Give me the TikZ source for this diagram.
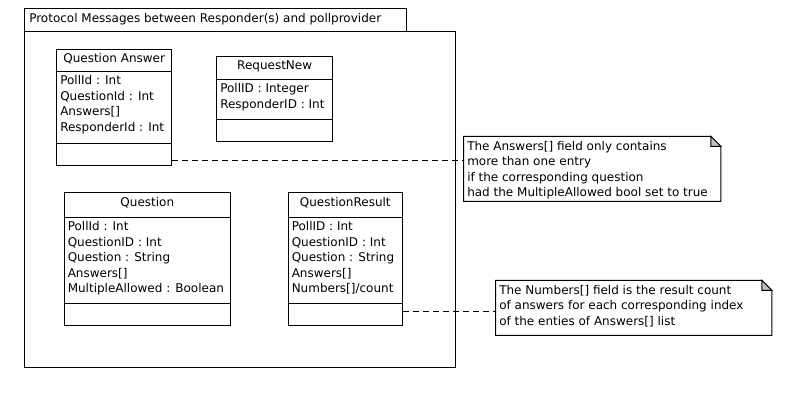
\documentclass[tikz,border=0pt]{standalone}
\usepackage{fontspec}
\setmainfont{DejaVu Sans}
\usetikzlibrary{fit}
\begin{document}
\begin{tikzpicture}[x=0.75pt,y=-0.75pt,
    box/.style={draw,line width=0.75pt,inner sep=0pt},
    note/.style={inner sep=0pt},
    txt/.style={font=\fontsize{9}{11.6}\selectfont,inner sep=0pt,align=left,anchor=north west},
    title/.style={font=\fontsize{9}{11.6}\selectfont,inner sep=0pt},
    link/.style={line width=0.75pt,dash pattern=on 4.5pt off 3pt}]
  \useasboundingbox (0,0) rectangle (796,408);
  % package
  \node[box, fit={(24,8) (406,31)}] (tab) {};
  \node[box, fit={(24,31) (455,367)}] (pkg) {};
  \node[title, anchor=west] (pkgname) at (29,19) {Protocol Messages between Responder(s) and pollprovider};
  % classes
  \node[box, fit={(56.7,49) (171.7,165)}] (qa) {};
  \draw[line width=0.75pt] (56.7,71) -- (171.7,71) (56.7,143.3) -- (171.7,143.3);
  \node[title] (qaname) at (114.2,58.5) {Question Answer};
  \node[txt] (qaattr) at (60,75.5) {PollId : Int\\QuestionId : Int\\Answers[]\\ResponderId : Int};
  \node[box, fit={(216.7,56.7) (332.7,141)}] (rn) {};
  \draw[line width=0.75pt] (216.7,79.3) -- (332.7,79.3) (216.7,119) -- (332.7,119);
  \node[title] (rnname) at (274.7,66) {RequestNew};
  \node[txt] (rnattr) at (220,83.5) {PollID : Integer\\ResponderID : Int};
  \node[box, fit={(64,192.3) (230.7,325)}] (q) {};
  \draw[line width=0.75pt] (64,217.3) -- (230.7,217.3) (64,303.3) -- (230.7,303.3);
  \node[title] (qname) at (147.3,202.5) {Question};
  \node[txt] (qattr) at (67.5,221.5) {PollId : Int\\QuestionID : Int\\Question : String\\Answers[]\\MultipleAllowed : Boolean};
  \node[box, fit={(288.3,192.3) (402.3,325)}] (qr) {};
  \draw[line width=0.75pt] (288.3,217.3) -- (402.3,217.3) (288.3,303.3) -- (402.3,303.3);
  \node[title] (qrname) at (345.3,202.5) {QuestionResult};
  \node[txt] (qrattr) at (291.5,221.5) {PollID : Int\\QuestionID : Int\\Question : String\\Answers[]\\Numbers[]/count};
  % notes
  \node[note, fit={(464,136.7) (720.7,201)}] (n1) {};
  \node[note, fit={(496,280.7) (771.7,335)}] (n2) {};
  \foreach \n in {n1,n2} {
    \draw[line width=0.75pt] (\n.north west) -- ([xshift=-7.5pt]\n.north east)
      -- ([yshift=-7.5pt]\n.north east) -- (\n.south east) -- (\n.south west) -- cycle;
    \filldraw[line width=0.75pt,fill=black!25] ([xshift=-7.5pt]\n.north east)
      -- ([xshift=-7.5pt,yshift=-7.5pt]\n.north east) -- ([yshift=-7.5pt]\n.north east) -- cycle;
  }
  \node[txt] (n1text) at (467,141) {The Answers[] field only contains\\more than one entry\\if the corresponding question\\had the MultipleAllowed bool set to true};
  \node[txt] (n2text) at (499,285) {The Numbers[] field is the result count\\of answers for each corresponding index\\of the enties of Answers[] list};
  % links
  \coordinate (y1) at (0,160);
  \coordinate (y2) at (0,311);
  \draw[link] (qa.east |- y1) -- (n1.west |- y1);
  \draw[link] (qr.east |- y2) -- (n2.west |- y2);
\end{tikzpicture}
\end{document}
